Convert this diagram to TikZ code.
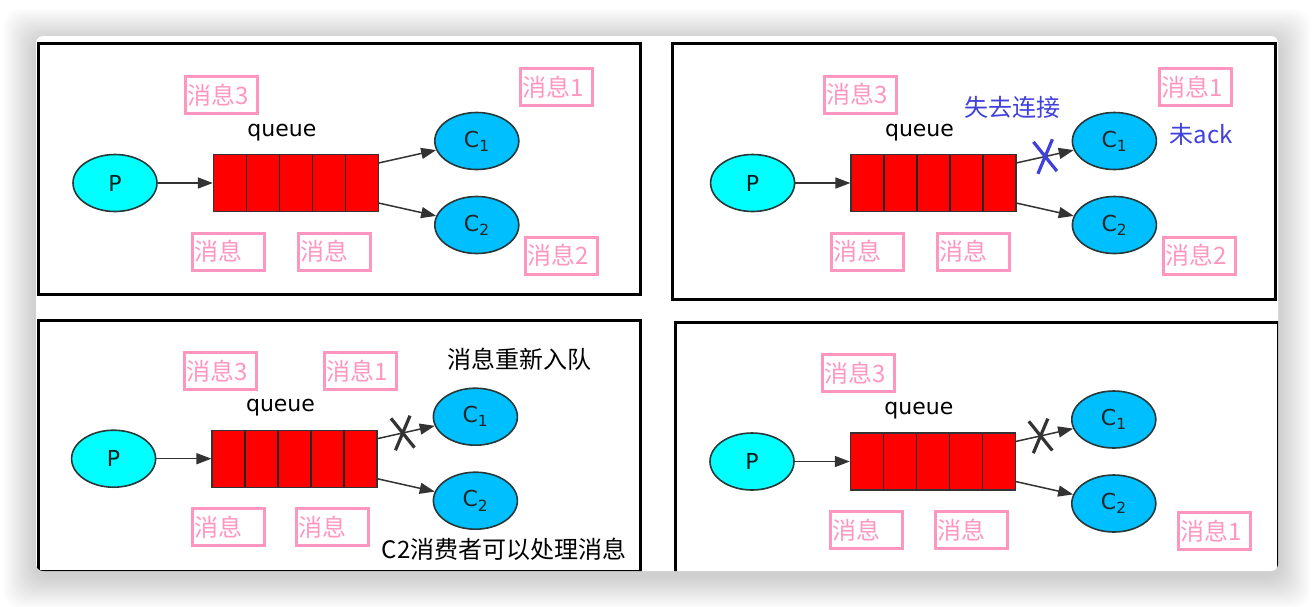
\documentclass[tikz,border=0pt]{standalone}
\usepackage{fontspec}
\setmainfont{DejaVu Sans}
\newfontfamily\cjk{Noto Sans CJK SC}
\usepackage{tikz}
\usetikzlibrary{arrows.meta,positioning,shapes.geometric,shapes.misc,calc}

\definecolor{prodcyan}{RGB}{0,255,255}
\definecolor{conscyan}{RGB}{0,191,255}
\definecolor{qred}{RGB}{255,0,0}
\definecolor{edgegray}{RGB}{40,55,55}
\definecolor{msgpink}{RGB}{255,150,192}
\definecolor{noteblue}{RGB}{64,64,220}

\begin{document}
\begin{tikzpicture}[
    x=1pt, y=-1pt,
    prod/.style={ellipse, draw=edgegray, fill=prodcyan, line width=1.6pt, minimum width=84pt, minimum height=57pt, inner sep=0pt, font=\fontsize{22}{22}\selectfont, text=black!75!teal},
    cons/.style={prod, fill=conscyan, text=black!85},
    queuebox/.style={draw=black!80, fill=qred, line width=1.2pt, minimum width=165pt, minimum height=57pt, inner sep=0pt,
      path picture={\foreach \k in {1,2,3,4}{\draw[black!85, line width=1.2pt] ($(path picture bounding box.north west)!\k/5!(path picture bounding box.north east)$) -- ($(path picture bounding box.south west)!\k/5!(path picture bounding box.south east)$);}}},
    qlabel/.style={inner sep=0pt, font=\fontsize{22}{22}\selectfont},
    msg/.style={draw=msgpink, line width=3pt, text=msgpink, font=\cjk\fontsize{24}{24}\selectfont, minimum width=72pt, minimum height=37pt, text width=68pt, inner xsep=2pt, inner ysep=0pt, align=left},
    note/.style={inner sep=0pt, font=\cjk\fontsize{24}{24}\selectfont},
    panel/.style={draw=black, line width=3pt},
    arrow/.style={-{Triangle[length=15pt,width=11pt]}, line width=1.5pt, draw=black!80},
    xmark/.style={cross out, draw, line width=3.2pt, minimum width=16pt, minimum height=29pt, inner sep=0pt, rotate=8}
]

% Frame with soft shadow
\useasboundingbox (0,0) rectangle (1314,606);
\foreach \k in {1,...,16}
  \fill[black, opacity=0.012, rounded corners=16pt] (36-2*\k,41-2*\k) rectangle (1278+2*\k,576+2*\k);
\fill[white, rounded corners=7pt] (36,36) rectangle (1278,571);

% Panel borders
\begin{scope}
  \clip[rounded corners=7pt] (36,36) rectangle (1278,571);
  \draw[panel] (38.5,43.5) rectangle (640.5,294.5);
  \draw[panel] (672,43.5) rectangle (1275,299.5);
  \draw[panel] (38.5,320.5) rectangle (640,571);
  \draw[panel] (675.5,322.5) rectangle (1278.5,585);
\end{scope}

% Panel a
\node[prod] (Pa) at (115,183) {P};
\node[queuebox, right=55pt of Pa] (Qa) {};
\node[qlabel, above=13pt of Qa, xshift=-14pt] (La) {queue};
\node[cons, right=55pt of Qa, yshift=42pt] (C1a) {C\textsubscript{1}};
\node[cons, right=55pt of Qa, yshift=-42pt] (C2a) {C\textsubscript{2}};
\node[msg] (ma3) at (221.5,95) {消息3};
\node[msg] (ma1) at (556,87) {消息1};
\node[msg] (maL) at (228.5,251.7) {消息};
\node[msg] (maR) at (334.5,251.7) {消息};
\node[msg] (ma2) at (561.5,255.7) {消息2};
\draw[arrow] (Pa) -- (Qa);
\draw[arrow] ([yshift=-9pt]Qa.north east) -- (C1a);
\draw[arrow] ([yshift=9pt]Qa.south east) -- (C2a);

% Panel b
\node[prod] (Pb) at (752.6,183) {P};
\node[queuebox, right=55pt of Pb] (Qb) {};
\node[qlabel, above=13pt of Qb, xshift=-14pt] (Lb) {queue};
\node[cons, right=55pt of Qb, yshift=42pt] (C1b) {C\textsubscript{1}};
\node[cons, right=55pt of Qb, yshift=-42pt] (C2b) {C\textsubscript{2}};
\node[msg] (mb3) at (860,94.7) {消息3};
\node[msg] (mb1) at (1195,87) {消息1};
\node[msg] (mbL) at (867,251.7) {消息};
\node[msg] (mbR) at (973,251.7) {消息};
\node[msg] (mb2) at (1199,255.7) {消息2};
\node[note, text=noteblue] (lost) at (1012.5,107) {失去连接};
\node[note, text=noteblue] (noack) at (1201,134) {未ack};
\draw[arrow] (Pb) -- (Qb);
\draw[arrow] ([yshift=-9pt]Qb.north east) -- node[xmark, draw=noteblue, pos=0.5] (Xb) {} (C1b);
\draw[arrow] ([yshift=9pt]Qb.south east) -- (C2b);

% Panel c
\node[prod] (Pc) at (113.6,458.7) {P};
\node[queuebox, right=55pt of Pc] (Qc) {};
\node[qlabel, above=13pt of Qc, xshift=-14pt] (Lc) {queue};
\node[cons, right=55pt of Qc, yshift=42pt] (C1c) {C\textsubscript{1}};
\node[cons, right=55pt of Qc, yshift=-42pt] (C2c) {C\textsubscript{2}};
\node[msg] (mc3) at (220,371) {消息3};
\node[msg] (mc1) at (360.5,371) {消息1};
\node[msg] (mcL) at (228,527) {消息};
\node[msg] (mcR) at (332.7,527) {消息};
\node[note] (requeue) at (519,359) {消息重新入队};
\node[note] (c2ok) at (504,549) {C2消费者可以处理消息};
\draw[arrow] (Pc) -- (Qc);
\draw[arrow] ([yshift=-9pt]Qc.north east) -- node[xmark, pos=0.44] (Xc) {} (C1c);
\draw[arrow] ([yshift=9pt]Qc.south east) -- (C2c);

% Panel d
\node[prod] (Pd) at (752,461.5) {P};
\node[queuebox, right=55pt of Pd] (Qd) {};
\node[qlabel, above=13pt of Qd, xshift=-14pt] (Ld) {queue};
\node[cons, right=55pt of Qd, yshift=42pt] (C1d) {C\textsubscript{1}};
\node[cons, right=55pt of Qd, yshift=-42pt] (C2d) {C\textsubscript{2}};
\node[msg] (md3) at (858.6,373) {消息3};
\node[msg] (mdL) at (866,530) {消息};
\node[msg] (mdR) at (971,530) {消息};
\node[msg] (md1) at (1214,531) {消息1};
\draw[arrow] (Pd) -- (Qd);
\draw[arrow] ([yshift=-9pt]Qd.north east) -- node[xmark, pos=0.43] (Xd) {} (C1d);
\draw[arrow] ([yshift=9pt]Qd.south east) -- (C2d);
\end{tikzpicture}
\end{document}
